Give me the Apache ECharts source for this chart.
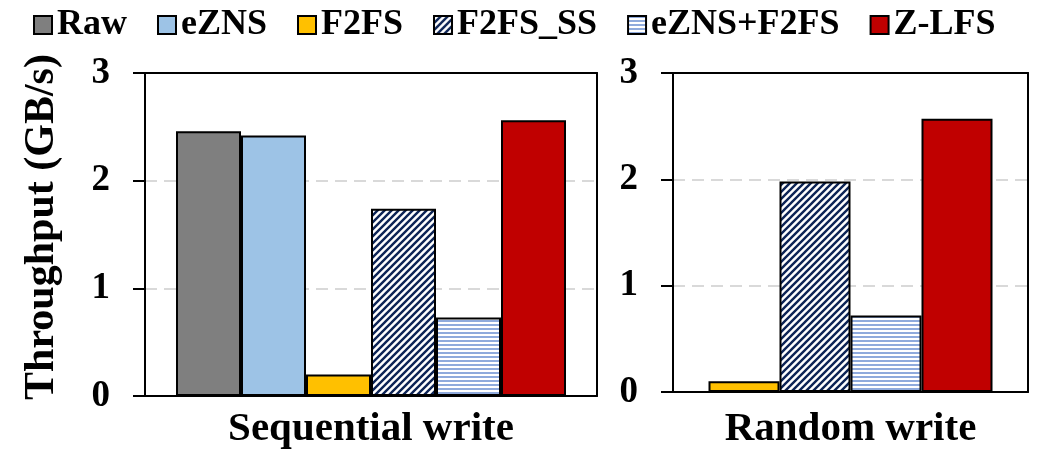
<!DOCTYPE html>
<html><head><meta charset="utf-8">
<script src="https://cdn.jsdelivr.net/npm/echarts@6/dist/echarts.min.js"></script>
<style>html,body{margin:0;padding:0;background:#fff}#c{width:1038px;height:454px}</style>
</head><body><div id="c"></div>
<script>
// ---- data ----
const seriesNames = ['Raw', 'eZNS', 'F2FS', 'F2FS_SS', 'eZNS+F2FS', 'Z-LFS'];
const seqCategories = ['Sequential write'];
const rndCategories = ['Random write'];
const seqValues = [2.46, 2.42, 0.20, 1.74, 0.73, 2.56];
const rndNames = ['F2FS', 'F2FS_SS', 'eZNS+F2FS', 'Z-LFS'];
const rndValues = [0.10, 1.98, 0.72, 2.57];
const yTickLabels = ['0', '1', '2', '3'];

// ---- patterns ----
function diagPattern() {
  const s = 7, c = document.createElement('canvas');
  c.width = c.height = s;
  const g = c.getContext('2d');
  g.fillStyle = '#fff'; g.fillRect(0, 0, s, s);
  g.strokeStyle = '#0d2456'; g.lineWidth = 2.4; g.lineCap = 'square';
  g.beginPath();
  g.moveTo(-1, s + 1); g.lineTo(s + 1, -1);
  g.moveTo(-1, 1); g.lineTo(1, -1);
  g.moveTo(s - 1, s + 1); g.lineTo(s + 1, s - 1);
  g.stroke();
  return c;
}
function horizPattern() {
  const c = document.createElement('canvas');
  c.width = 4; c.height = 4;
  const g = c.getContext('2d');
  g.fillStyle = '#fff'; g.fillRect(0, 0, 4, 4);
  g.fillStyle = '#8faadc'; g.fillRect(0, 0, 4, 2);
  return c;
}
const fills = {
  'Raw': '#7f7f7f',
  'eZNS': '#9dc3e6',
  'F2FS': '#ffc000',
  'F2FS_SS': { image: diagPattern(), repeat: 'repeat' },
  'eZNS+F2FS': { image: horizPattern(), repeat: 'repeat' },
  'Z-LFS': '#c00000'
};

const FONT = 'Liberation Serif';
const chart = echarts.init(document.getElementById('c'), null, { renderer: 'canvas' });

function blackLine() {
  return { show: true, onZero: false, lineStyle: { color: '#000', width: 2 } };
}
function yAxisCfg(gridIndex, withName) {
  const a = {
    type: 'value', gridIndex, min: 0, max: 3, interval: 1,
    axisLine: blackLine(),
    axisTick: { show: true, inside: false, length: 12, lineStyle: { color: '#000', width: 2 } },
    axisLabel: {
      margin: 35, color: '#000', fontFamily: FONT, fontWeight: 'bold', fontSize: 37,
      formatter: v => yTickLabels[v]
    },
    splitLine: { show: true, lineStyle: { color: '#d9d9d9', width: 2, type: [12, 7] } }
  };
  if (withName) {
    a.name = 'Throughput (GB/s)';
    a.nameLocation = 'middle';
    a.nameGap = 82;
    a.nameTextStyle = { color: '#000', fontFamily: FONT, fontWeight: 'bold', fontSize: 42, padding: [0, 0, 0, 15] };
  }
  return a;
}
function yBorderCfg(gridIndex) {
  return {
    type: 'value', gridIndex, min: 0, max: 3, interval: 1, position: 'right', z: 5,
    axisLine: blackLine(), axisTick: { show: false }, axisLabel: { show: false }, splitLine: { show: false }
  };
}
function xAxisCfg(gridIndex, cats, margin) {
  return {
    type: 'category', gridIndex, data: cats, z: 5,
    axisLine: blackLine(),
    axisTick: { show: false },
    axisLabel: { margin, color: '#000', fontFamily: FONT, fontWeight: 'bold', fontSize: 41 }
  };
}
function xBorderCfg(gridIndex, cats) {
  return {
    type: 'category', gridIndex, data: cats, position: 'top', z: 5,
    axisLine: blackLine(), axisTick: { show: false }, axisLabel: { show: false }, splitLine: { show: false }
  };
}

const series = [];
seriesNames.forEach((n, i) => {
  series.push({
    name: n, type: 'bar', xAxisIndex: 0, yAxisIndex: 0,
    data: [seqValues[i]], barWidth: 65, barGap: '0%',
    itemStyle: { color: fills[n], borderColor: '#000', borderWidth: 2 }
  });
});
rndNames.forEach((n, i) => {
  series.push({
    name: n, type: 'bar', xAxisIndex: 1, yAxisIndex: 1,
    data: [rndValues[i]], barWidth: 71, barGap: '0%',
    itemStyle: { color: fills[n], borderColor: '#000', borderWidth: 2 }
  });
});

chart.setOption({
  backgroundColor: '#fff',
  animation: false,
  legend: {
    data: seriesNames, top: 2, left: 28,
    icon: 'rect', itemWidth: 18, itemHeight: 18, itemGap: 30,
    itemStyle: { borderColor: '#000', borderWidth: 2 },
    textStyle: { color: '#000', fontFamily: FONT, fontWeight: 'bold', fontSize: 36 }
  },
  grid: [
    { left: 145, top: 73, width: 452, height: 323 },
    { left: 673, top: 73, width: 355, height: 319 }
  ],
  xAxis: [xAxisCfg(0, seqCategories, 13), xAxisCfg(1, rndCategories, 17), xBorderCfg(0, seqCategories), xBorderCfg(1, rndCategories)],
  yAxis: [yAxisCfg(0, true), yAxisCfg(1, false), yBorderCfg(0), yBorderCfg(1)],
  series
});
</script>
</body></html>
